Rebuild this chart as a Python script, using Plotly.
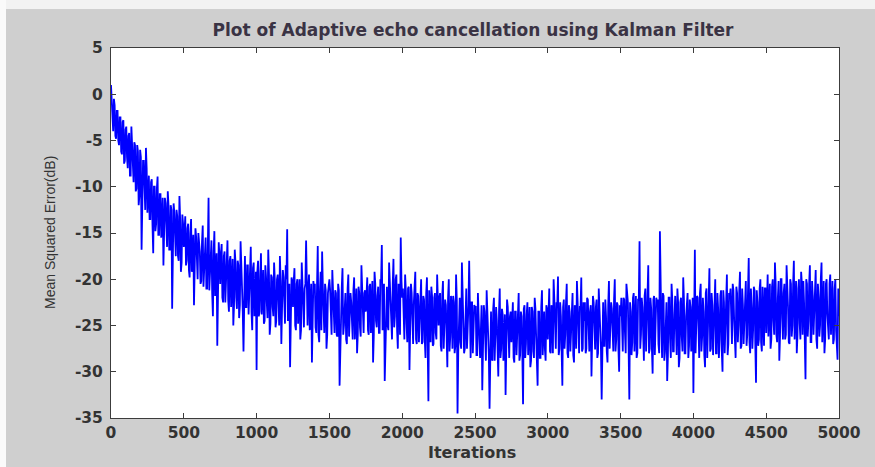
import plotly.graph_objects as go

# ---------------- data ----------------
# MSE samples at iterations 0, 10, 20, ... 5000
mse_even = [
    # 0 - 240
    1.0, -3.0, -0.5, -4.5, -1.8, -5.0, -2.5, -6.2, -3.0, -7.5, -3.8, -6.8, -4.5, -8.8, -3.5,
    -8.0, -5.2, -10.5, -5.5, -12.0, -6.0, -16.8, -7.2, -11.5, -5.8,
    # 250 - 490
    -12.8, -8.8, -13.5, -9.2, -17.2, -10.0, -14.0, -8.9, -15.2, -10.8, -13.2, -18.5, -11.2, -15.5, -10.5,
    -16.8, -12.0, -23.2, -11.8, -15.0, -12.5, -17.5, -11.0, -19.2, -13.0,
    # 500 - 740
    -16.5, -13.2, -18.0, -14.0, -19.8, -13.5, -17.2, -22.8, -14.5, -18.8, -15.0, -17.0, -20.2, -14.2, -19.0,
    -15.5, -21.0, -11.2, -18.5, -15.8, -24.0, -14.8, -19.5, -27.2, -16.0,
    # 750 - 990
    -20.5, -16.2, -22.5, -17.0, -19.8, -15.8, -23.5, -17.5, -21.0, -25.0, -16.8, -22.0, -18.0, -24.2, -15.9,
    -20.8, -27.8, -17.5, -23.0, -18.5, -21.5, -16.5, -25.5, -18.2, -22.8,
    # 1000 - 1240
    -29.8, -18.0, -23.5, -17.2, -21.0, -24.8, -18.5, -22.5, -16.8, -26.0, -19.5, -23.0, -18.2, -25.2, -20.0,
    -22.2, -17.5, -27.0, -19.0, -24.5, -18.5, -14.6, -23.8, -29.5, -19.8,
    # 1250 - 1490
    -23.0, -18.8, -25.5, -20.0, -22.0, -26.5, -18.2, -24.0, -21.0, -15.8, -25.0, -19.5, -23.2, -29.0, -20.2,
    -20.5, -25.8, -16.4, -26.8, -19.2, -17.0, -24.2, -20.5, -27.5, -21.5,
    # 1500 - 1740
    -20.0, -25.5, -19.0, -23.5, -21.2, -26.0, -20.5, -31.5, -22.0, -18.8, -25.0, -21.5, -27.0, -19.5, -24.0,
    -22.5, -26.5, -19.8, -23.0, -28.0, -20.8, -25.2, -18.5, -24.8, -21.5,
    # 1750 - 1990
    -23.5, -19.8, -26.0, -20.5, -22.8, -29.0, -19.2, -24.5, -21.8, -25.8, -20.0, -16.3, -23.2, -31.0, -20.8,
    -25.0, -18.2, -22.5, -26.5, -17.8, -24.0, -19.5, -27.5, -21.0, -15.5,
    # 2000 - 2240
    -22.0, -26.5, -19.5, -24.8, -21.0, -29.8, -20.5, -25.5, -22.5, -19.2, -27.0, -21.8, -24.2, -20.0, -26.8,
    -22.2, -28.5, -19.8, -33.2, -23.0, -20.8, -27.2, -22.0, -25.8, -19.5,
    # 2250 - 2490
    -25.0, -21.5, -27.8, -20.2, -24.5, -22.8, -29.5, -20.0, -26.2, -23.0, -21.8, -28.0, -19.5, -34.5, -22.5,
    -26.8, -18.2, -24.0, -27.5, -21.0, -25.2, -18.0, -28.5, -22.5, -26.0,
    # 2500 - 2740
    -23.0, -28.2, -21.5, -26.5, -24.0, -32.0, -22.8, -27.0, -21.2, -25.8, -34.0, -23.5, -28.8, -22.0, -26.2,
    -24.5, -30.5, -21.0, -27.5, -23.8, -25.5, -32.5, -22.2, -28.0, -24.0,
    # 2750 - 2990
    -26.8, -22.5, -29.0, -23.5, -25.8, -21.5, -28.2, -24.0, -33.5, -22.8, -27.0, -22.5, -25.5, -29.5, -23.0,
    -27.8, -22.0, -26.2, -31.5, -23.5, -28.5, -21.2, -25.0, -27.5, -22.8,
    # 3000 - 3240
    -26.5, -21.0, -28.0, -23.8, -20.0, -26.8, -22.5, -19.7, -27.5, -24.0, -31.5, -22.2, -26.0, -20.5, -28.5,
    -23.5, -25.5, -21.5, -29.0, -24.2, -20.2, -27.0, -23.0, -19.8, -27.5,
    # 3250 - 3490
    -24.5, -28.0, -22.0, -26.5, -23.5, -30.5, -21.8, -25.8, -23.0, -28.5, -21.0, -26.0, -33.0, -22.5, -27.2,
    -24.0, -29.0, -20.2, -25.5, -23.2, -27.8, -20.0, -26.5, -22.8, -30.0,
    # 3500 - 3740
    -24.0, -27.5, -22.0, -25.8, -20.5, -22.5, -33.0, -23.5, -26.8, -21.5, -24.8, -28.5, -22.2, -15.9, -26.0,
    -23.0, -28.8, -21.0, -25.2, -18.5, -27.5, -23.2, -30.2, -21.8, -25.5,
    # 3750 - 3990
    -22.5, -27.0, -14.8, -25.5, -21.5, -28.8, -23.0, -31.0, -22.0, -26.5, -20.5, -27.8, -23.8, -25.0, -21.0,
    -29.5, -22.5, -26.2, -19.8, -28.0, -24.0, -21.5, -27.2, -23.0, -25.8,
    # 4000 - 4240
    -32.3, -16.8, -25.0, -22.0, -28.5, -20.5, -26.2, -23.5, -29.5, -21.0, -25.5, -18.8, -27.5, -22.8, -24.8,
    -20.0, -28.0, -23.2, -26.5, -21.2, -30.0, -22.5, -25.8, -19.5, -27.0,
    # 4250 - 4490
    -22.0, -26.8, -20.5, -24.5, -28.5, -21.5, -25.0, -19.2, -27.2, -22.8, -24.0, -20.2, -26.0, -17.7, -28.0,
    -23.0, -25.5, -21.2, -31.2, -22.5, -26.5, -20.0, -27.8, -23.5, -21.0,
    # 4500 - 4740
    -25.8, -19.5, -23.8, -27.5, -20.8, -24.5, -18.2, -26.0, -22.0, -28.8, -20.0, -24.2, -21.5, -26.5, -18.5,
    -23.0, -27.0, -20.5, -25.0, -18.0, -23.5, -28.0, -21.0, -24.8, -19.2,
    # 4750 - 5000
    -26.0, -22.5, -30.8, -20.5, -24.5, -18.5, -26.8, -21.8, -23.5, -19.0, -27.5, -22.0, -25.0, -18.2, -24.2,
    -28.0, -20.5, -23.8, -26.5, -19.5, -22.5, -27.0, -21.0, -25.5, -28.7,
    -24.0,
]

# MSE samples at iterations 5, 15, 25, ... 4995 (the dense core of the band)
mse_odd = [
    -0.5, -4.0, -1.2, -4.8, -1.8, -5.5, -2.5, -6.5, -2.8, -7.2, -3.5, -8.0, -4.2, -8.8, -5.0, -9.5, -5.5, -10.2, -6.2, -11.0, -6.8, -11.8, -7.2, -12.5, -8.0,
    -9.0, -13.5, -9.5, -14.2, -10.0, -14.8, -10.2, -15.2, -10.8, -15.5, -11.2, -16.0, -11.8, -16.5, -12.0, -16.8, -12.5, -17.2, -12.8, -17.5, -13.2, -18.0, -13.5, -18.2, -14.0,
    -14.2, -18.5, -14.5, -19.0, -15.0, -19.2, -15.2, -19.8, -15.5, -20.0, -15.8, -20.5, -16.0, -20.8, -16.2, -21.0, -16.5, -21.2, -16.8, -21.5, -17.0, -21.8, -17.2, -22.0, -17.5,
    -17.2, -22.0, -17.5, -22.5, -17.8, -22.2, -18.0, -23.0, -17.8, -22.8, -18.2, -23.2, -18.5, -22.8, -18.2, -23.5, -18.8, -23.0, -18.5, -23.8, -19.0, -23.5, -18.8, -24.0, -19.2,
    -19.2, -24.0, -19.5, -23.8, -19.0, -24.5, -19.8, -24.2, -19.5, -24.8, -19.8, -24.0, -20.0, -24.5, -19.5, -25.0, -20.2, -24.2, -19.8, -24.8, -20.0, -24.5, -20.5, -25.0, -20.2,
    -20.2, -25.0, -20.5, -24.8, -20.0, -25.5, -20.8, -25.2, -20.5, -25.0, -21.0, -25.5, -20.5, -25.8, -21.0, -25.2, -20.8, -26.0, -21.2, -25.5, -20.8, -25.8, -21.2, -26.0, -21.0,
    -21.2, -26.0, -21.0, -25.8, -21.5, -26.2, -21.2, -26.5, -20.8, -26.0, -21.5, -26.5, -21.0, -26.2, -21.5, -25.8, -21.2, -26.5, -21.0, -26.0, -21.5, -26.2, -21.0, -25.8, -21.2,
    -20.5, -25.5, -20.8, -25.8, -20.2, -26.0, -20.5, -25.2, -20.8, -25.8, -20.2, -25.5, -20.5, -26.0, -20.8, -25.5, -20.2, -25.8, -20.5, -25.2, -20.0, -25.5, -20.5, -26.0, -20.2,
    -21.0, -26.5, -21.2, -26.8, -20.8, -26.2, -21.5, -27.0, -21.0, -26.5, -21.5, -26.8, -21.2, -27.0, -21.8, -26.5, -21.5, -27.2, -21.2, -26.8, -21.8, -27.0, -21.5, -26.5, -22.0,
    -22.0, -27.2, -21.8, -27.5, -22.2, -27.0, -22.0, -27.8, -21.8, -27.5, -22.5, -27.2, -22.2, -27.8, -22.0, -27.5, -22.5, -28.0, -22.2, -27.5, -22.8, -27.8, -22.5, -28.0, -22.8,
    -23.0, -28.2, -23.2, -28.5, -22.8, -28.0, -23.5, -28.8, -23.0, -28.2, -23.5, -28.5, -23.2, -28.8, -23.0, -28.0, -23.5, -28.5, -23.2, -28.8, -23.8, -28.2, -23.0, -28.5, -23.5,
    -23.2, -28.5, -23.5, -28.2, -23.0, -28.8, -23.5, -28.0, -23.2, -28.5, -23.8, -28.2, -23.0, -28.8, -23.5, -28.5, -23.2, -28.0, -23.5, -28.5, -23.0, -28.2, -23.5, -28.8, -23.2,
    -22.5, -27.8, -22.8, -28.0, -22.2, -27.5, -22.8, -28.2, -22.5, -27.8, -23.0, -27.5, -22.5, -28.0, -22.8, -27.8, -22.2, -28.2, -22.8, -27.5, -22.5, -28.0, -23.0, -27.8, -22.5,
    -22.5, -27.5, -22.2, -27.8, -22.8, -27.2, -22.5, -27.6, -22.2, -28.0, -22.8, -27.5, -22.5, -27.2, -22.2, -27.8, -22.8, -27.5, -22.5, -27.0, -22.2, -27.8, -22.5, -27.5, -22.8,
    -22.0, -27.8, -22.2, -28.0, -21.8, -27.5, -22.5, -28.2, -22.0, -27.8, -21.8, -28.0, -22.2, -27.5, -22.0, -28.2, -21.8, -27.8, -22.5, -28.0, -22.0, -27.5, -22.2, -28.2, -22.0,
    -22.2, -28.0, -22.0, -28.5, -21.8, -27.8, -22.5, -28.2, -22.0, -28.5, -22.2, -27.8, -21.8, -28.2, -22.5, -28.5, -22.0, -27.8, -22.2, -28.0, -21.8, -28.5, -22.2, -27.8, -22.0,
    -21.5, -28.0, -21.8, -28.5, -21.5, -27.8, -22.0, -28.2, -21.5, -28.5, -21.8, -27.8, -21.5, -28.2, -22.0, -28.0, -21.5, -28.5, -21.8, -27.8, -21.2, -28.0, -21.8, -28.2, -21.5,
    -21.0, -27.0, -21.2, -27.2, -20.8, -26.8, -21.2, -27.5, -21.0, -27.0, -20.8, -27.2, -21.2, -26.8, -21.0, -27.5, -20.8, -27.0, -21.2, -27.2, -21.0, -26.8, -20.8, -27.2, -21.0,
    -20.2, -26.2, -20.5, -26.5, -20.0, -26.0, -20.5, -26.8, -20.2, -26.2, -20.0, -26.5, -20.5, -26.0, -20.2, -26.8, -20.0, -26.2, -20.5, -26.5, -20.2, -26.0, -20.0, -26.5, -20.5,
    -20.2, -26.5, -20.0, -26.2, -20.5, -26.8, -20.2, -26.0, -20.0, -26.5, -20.5, -26.2, -20.0, -26.8, -20.2, -26.5, -20.0, -26.2, -20.5, -26.0, -20.2, -26.5, -20.0, -26.8, -21.0,
]

iter_even = [10 * i for i in range(len(mse_even))]
iter_odd = [5 + 10 * i for i in range(len(mse_odd))]

x_ticks = [0, 500, 1000, 1500, 2000, 2500, 3000, 3500, 4000, 4500, 5000]
y_ticks = [5, 0, -5, -10, -15, -20, -25, -30, -35]
y_tick_text = ["5", "0", "-5", "-10", "-15", "-20", "-25", "-30", "-35"]

title_text = "Plot of Adaptive echo cancellation using Kalman Filter"
x_label = "Iterations"
y_label = "Mean Squared Error(dB)"

# merge both sample sets in iteration order
pairs = sorted(
    [(x, y) for x, y in zip(iter_even, mse_even) if x <= 5000]
    + [(x, y) for x, y in zip(iter_odd, mse_odd) if x <= 5000]
)
iterations = [p[0] for p in pairs]
mse_db = [p[1] for p in pairs]

# ---------------- figure ----------------
W, H = 875, 467
L, R, T, B = 111, 36, 48, 49
pw, ph = W - L - R, H - T - B


def px(xp):
    return (xp - L) / pw


def py(yp):
    return (H - B - yp) / ph


BG = "#cfcfcf"
AX = "#3c3c3c"
TXT = "#333333"

fig = go.Figure(
    go.Scatter(
        x=iterations,
        y=mse_db,
        mode="lines",
        line=dict(color="#0000ff", width=1.8),
        hoverinfo="skip",
    )
)

tickfont = dict(family="DejaVu Sans", size=15.5, color=TXT, weight="bold")

fig.update_layout(
    width=W,
    height=H,
    margin=dict(l=L, r=R, t=T, b=B, pad=0),
    paper_bgcolor=BG,
    plot_bgcolor="white",
    showlegend=False,
    title=dict(
        text=title_text,
        x=px(473),
        xanchor="center",
        xref="paper",
        y=1 - 30 / H,
        yref="container",
        yanchor="middle",
        font=dict(family="DejaVu Sans", size=17, color="#3a3344", weight="bold"),
    ),
    xaxis=dict(
        range=[0, 5000],
        tickvals=x_ticks,
        ticks="inside",
        ticklen=5,
        tickwidth=1,
        tickcolor=AX,
        showline=True,
        linecolor=AX,
        linewidth=1,
        mirror="ticks",
        showgrid=False,
        zeroline=False,
        tickfont=tickfont,
        ticklabelstandoff=0,
    ),
    yaxis=dict(
        range=[-35, 5],
        tickvals=y_ticks,
        ticktext=y_tick_text,
        ticks="inside",
        ticklen=5,
        tickwidth=1,
        tickcolor=AX,
        showline=True,
        linecolor=AX,
        linewidth=1,
        mirror="ticks",
        showgrid=False,
        zeroline=False,
        tickfont=tickfont,
        ticklabelstandoff=4,
    ),
    shapes=[
        dict(type="rect", xref="paper", yref="paper",
             x0=px(0), x1=px(W), y0=py(9), y1=py(0),
             fillcolor="#f2f2f2", line=dict(width=0), layer="above"),
        dict(type="rect", xref="paper", yref="paper",
             x0=px(0), x1=px(6), y0=py(H), y1=py(0),
             fillcolor="#fafafa", line=dict(width=0), layer="above"),
    ],
    annotations=[
        dict(text=x_label, xref="paper", yref="paper", x=px(472), y=py(452),
             xanchor="center", yanchor="middle", showarrow=False,
             font=dict(family="DejaVu Sans", size=16, color=TXT, weight="bold")),
        dict(text=y_label, xref="paper", yref="paper", x=px(50), y=py(233),
             xanchor="center", yanchor="middle", showarrow=False, textangle=-90,
             font=dict(family="Liberation Sans", size=14, color=TXT)),
    ],
)

fig.write_html("out.html")
